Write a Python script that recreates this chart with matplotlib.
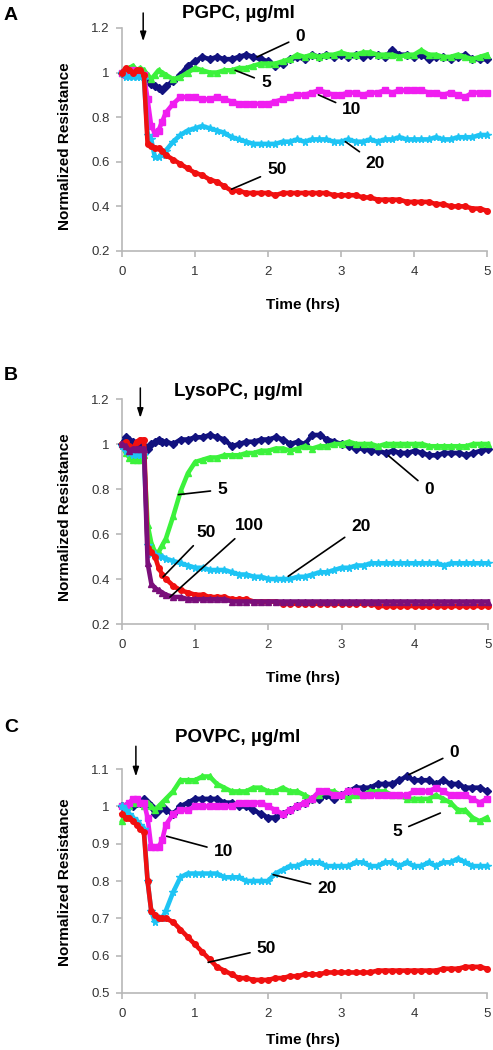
import matplotlib
matplotlib.use("Agg")
import matplotlib.pyplot as plt

plt.rcParams["font.family"] = ["Liberation Sans", "DejaVu Sans"]

# --- Zeitachse (h), gemeinsam für alle Panels ---
T = [0.0, 0.05, 0.1, 0.15, 0.2, 0.25, 0.3, 0.35, 0.4, 0.45, 0.5, 0.55, 0.6,
     0.7, 0.8, 0.9, 1.0,
     1.1, 1.2, 1.3, 1.4, 1.5, 1.6, 1.7, 1.8, 1.9, 2.0,
     2.1, 2.2, 2.3, 2.4, 2.5, 2.6, 2.7, 2.8, 2.9, 3.0,
     3.1, 3.2, 3.3, 3.4, 3.5, 3.6, 3.7, 3.8, 3.9, 4.0,
     4.1, 4.2, 4.3, 4.4, 4.5, 4.6, 4.7, 4.8, 4.9, 5.0]

# --- Panel A: PGPC ---
A_0 = [1.00, 1.01, 1.00, 1.01, 1.00, 1.00, 0.99, 0.97, 0.95, 0.94, 0.93, 0.92, 0.94,
       0.96, 0.99, 1.03, 1.05,
       1.07, 1.06, 1.07, 1.06, 1.06, 1.07, 1.08, 1.07, 1.06, 1.05,
       1.03, 1.04, 1.06, 1.07, 1.06, 1.08, 1.07, 1.08, 1.07, 1.08,
       1.07, 1.08, 1.07, 1.08, 1.08, 1.07, 1.10, 1.08, 1.08, 1.07,
       1.08, 1.06, 1.07, 1.07, 1.06, 1.07, 1.08, 1.06, 1.06, 1.06]
A_5 = [1.00, 1.01, 1.02, 1.03, 1.01, 1.02, 1.01, 0.99, 0.97, 0.99, 1.01, 1.00, 0.99,
       0.97, 0.98, 1.00, 1.02,
       1.01, 1.00, 1.00, 1.01, 1.01, 1.02, 1.02, 1.03, 1.04, 1.04,
       1.04, 1.05, 1.06, 1.08, 1.07, 1.08, 1.07, 1.08, 1.08, 1.09,
       1.08, 1.08, 1.09, 1.09, 1.08, 1.08, 1.08, 1.07, 1.08, 1.08,
       1.10, 1.08, 1.08, 1.07, 1.07, 1.08, 1.07, 1.06, 1.07, 1.08]
A_10 = [1.00, 0.99, 1.00, 1.01, 1.00, 1.00, 0.99, 0.88, 0.76, 0.73, 0.74, 0.78, 0.82,
        0.86, 0.89, 0.89, 0.89,
        0.88, 0.88, 0.89, 0.88, 0.87, 0.86, 0.86, 0.86, 0.86, 0.86,
        0.87, 0.88, 0.89, 0.90, 0.90, 0.91, 0.92, 0.91, 0.90, 0.90,
        0.91, 0.91, 0.90, 0.91, 0.91, 0.92, 0.91, 0.92, 0.92, 0.92,
        0.92, 0.91, 0.91, 0.90, 0.91, 0.90, 0.89, 0.91, 0.91, 0.91]
A_20 = [1.00, 0.98, 0.98, 0.98, 0.98, 0.98, 0.97, 0.72, 0.70, 0.62, 0.62, 0.63, 0.65,
        0.69, 0.72, 0.74, 0.75,
        0.76, 0.75, 0.74, 0.73, 0.71, 0.70, 0.69, 0.68, 0.68, 0.68,
        0.68, 0.69, 0.69, 0.70, 0.69, 0.70, 0.70, 0.70, 0.69, 0.69,
        0.70, 0.69, 0.69, 0.70, 0.69, 0.70, 0.70, 0.71, 0.70, 0.70,
        0.70, 0.70, 0.71, 0.70, 0.70, 0.71, 0.71, 0.71, 0.72, 0.72]
A_50 = [1.00, 1.02, 1.01, 1.00, 1.01, 1.01, 0.99, 0.68, 0.67, 0.66, 0.66, 0.65, 0.63,
        0.61, 0.59, 0.57, 0.55,
        0.54, 0.52, 0.51, 0.49, 0.47, 0.47, 0.46, 0.46, 0.46, 0.46,
        0.45, 0.46, 0.46, 0.46, 0.46, 0.46, 0.46, 0.46, 0.45, 0.45,
        0.45, 0.45, 0.44, 0.44, 0.43, 0.43, 0.43, 0.43, 0.42, 0.42,
        0.42, 0.42, 0.41, 0.41, 0.40, 0.40, 0.40, 0.39, 0.39, 0.38]

# --- Panel B: LysoPC ---
B_0 = [1.00, 1.03, 1.02, 1.01, 1.00, 1.00, 0.99, 0.98, 1.00, 1.01, 1.02, 1.01, 1.01,
       1.00, 1.02, 1.02, 1.03,
       1.03, 1.04, 1.03, 1.02, 0.99, 1.00, 1.01, 1.01, 1.02, 1.02,
       1.03, 1.02, 1.00, 1.01, 1.00, 1.04, 1.04, 1.02, 1.01, 1.00,
       0.99, 0.98, 0.98, 0.97, 0.97, 0.96, 0.97, 0.96, 0.96, 0.97,
       0.96, 0.95, 0.95, 0.96, 0.96, 0.96, 0.95, 0.96, 0.97, 0.98]
B_5 = [1.00, 0.96, 0.94, 0.93, 0.93, 0.93, 0.95, 0.64, 0.56, 0.52, 0.52, 0.55, 0.58,
       0.68, 0.79, 0.87, 0.92,
       0.93, 0.94, 0.94, 0.95, 0.95, 0.95, 0.96, 0.96, 0.97, 0.97,
       0.98, 0.98, 0.97, 0.98, 0.99, 0.98, 0.99, 0.99, 1.00, 1.00,
       1.01, 1.00, 1.00, 1.00, 0.99, 1.00, 1.00, 1.00, 1.00, 1.00,
       1.00, 0.99, 0.99, 0.99, 0.99, 0.99, 0.99, 1.00, 1.00, 1.00]
B_20 = [0.99, 0.97, 0.96, 0.95, 0.95, 0.95, 0.95, 0.55, 0.51, 0.51, 0.50, 0.50, 0.49,
        0.48, 0.47, 0.46, 0.45,
        0.45, 0.44, 0.44, 0.44, 0.43, 0.42, 0.42, 0.41, 0.41, 0.40,
        0.40, 0.40, 0.40, 0.41, 0.41, 0.42, 0.43, 0.43, 0.44, 0.45,
        0.45, 0.46, 0.46, 0.47, 0.47, 0.47, 0.47, 0.47, 0.47, 0.47,
        0.47, 0.47, 0.47, 0.46, 0.47, 0.47, 0.47, 0.47, 0.47, 0.47]
B_50 = [1.00, 1.01, 0.99, 0.98, 1.01, 1.02, 1.02, 0.54, 0.52, 0.50, 0.45, 0.42, 0.40,
        0.37, 0.35, 0.34, 0.33,
        0.33, 0.32, 0.32, 0.32, 0.31, 0.31, 0.31, 0.30, 0.30, 0.30,
        0.30, 0.29, 0.29, 0.29, 0.29, 0.29, 0.29, 0.29, 0.29, 0.29,
        0.29, 0.29, 0.29, 0.29, 0.28, 0.28, 0.28, 0.28, 0.28, 0.28,
        0.28, 0.28, 0.28, 0.28, 0.28, 0.28, 0.28, 0.28, 0.28, 0.28]
B_100 = [1.00, 0.99, 0.97, 0.98, 0.98, 0.98, 0.98, 0.47, 0.38, 0.36, 0.35, 0.34, 0.33,
         0.32, 0.32, 0.31, 0.31,
         0.31, 0.31, 0.31, 0.31, 0.30, 0.30, 0.30, 0.30, 0.30, 0.30,
         0.30, 0.30, 0.30, 0.30, 0.30, 0.30, 0.30, 0.30, 0.30, 0.30,
         0.30, 0.30, 0.30, 0.30, 0.30, 0.30, 0.30, 0.30, 0.30, 0.30,
         0.30, 0.30, 0.30, 0.30, 0.30, 0.30, 0.30, 0.30, 0.30, 0.30]

# --- Panel C: POVPC ---
C_0 = [1.00, 1.00, 1.00, 1.00, 1.01, 1.01, 1.02, 1.01, 1.00, 0.98, 0.99, 1.00, 0.99,
       0.98, 1.00, 1.01, 1.02,
       1.02, 1.02, 1.02, 1.01, 1.01, 1.00, 1.00, 0.99, 0.98, 0.97,
       0.97, 0.98, 0.99, 1.00, 1.01, 1.02, 1.02, 1.03, 1.02, 1.03,
       1.04, 1.05, 1.05, 1.05, 1.06, 1.06, 1.06, 1.07, 1.08, 1.07,
       1.07, 1.07, 1.06, 1.07, 1.06, 1.06, 1.05, 1.05, 1.05, 1.04]
C_5 = [0.96, 0.98, 1.00, 1.01, 1.01, 1.01, 1.00, 1.01, 1.00, 0.99, 1.00, 1.01, 1.02,
       1.04, 1.07, 1.07, 1.07,
       1.08, 1.08, 1.06, 1.05, 1.04, 1.04, 1.04, 1.05, 1.05, 1.04,
       1.04, 1.05, 1.04, 1.04, 1.03, 1.02, 1.03, 1.04, 1.04, 1.03,
       1.02, 1.03, 1.03, 1.04, 1.04, 1.04, 1.03, 1.03, 1.02, 1.02,
       1.02, 1.02, 1.03, 1.02, 1.01, 0.99, 0.99, 0.97, 0.96, 0.97]
C_10 = [1.00, 1.00, 1.01, 1.02, 1.02, 1.01, 1.01, 0.97, 0.89, 0.89, 0.89, 0.91, 0.95,
        0.98, 0.99, 0.99, 1.00,
        1.00, 1.00, 1.00, 1.00, 1.00, 1.01, 1.01, 1.01, 1.01, 1.00,
        0.99, 0.98, 0.99, 1.00, 1.01, 1.02, 1.04, 1.04, 1.03, 1.03,
        1.04, 1.04, 1.03, 1.03, 1.03, 1.03, 1.03, 1.03, 1.03, 1.04,
        1.04, 1.04, 1.05, 1.04, 1.03, 1.03, 1.03, 1.02, 1.01, 1.02]
C_20 = [1.00, 0.99, 0.98, 0.97, 0.96, 0.95, 0.94, 0.80, 0.72, 0.69, 0.70, 0.70, 0.72,
        0.77, 0.81, 0.82, 0.82,
        0.82, 0.82, 0.82, 0.81, 0.81, 0.81, 0.80, 0.80, 0.80, 0.80,
        0.82, 0.83, 0.84, 0.84, 0.85, 0.85, 0.85, 0.84, 0.84, 0.84,
        0.84, 0.85, 0.85, 0.84, 0.84, 0.85, 0.85, 0.84, 0.85, 0.84,
        0.84, 0.85, 0.84, 0.85, 0.85, 0.86, 0.85, 0.84, 0.84, 0.84]
C_50 = [0.98, 0.97, 0.97, 0.96, 0.95, 0.94, 0.93, 0.80, 0.72, 0.71, 0.70, 0.70, 0.70,
        0.69, 0.67, 0.65, 0.63,
        0.61, 0.59, 0.57, 0.56, 0.55, 0.54, 0.54, 0.535, 0.535, 0.535,
        0.54, 0.54, 0.545, 0.545, 0.55, 0.55, 0.55, 0.555, 0.555, 0.555,
        0.555, 0.555, 0.555, 0.555, 0.56, 0.56, 0.56, 0.56, 0.56, 0.56,
        0.56, 0.56, 0.56, 0.565, 0.565, 0.565, 0.57, 0.57, 0.57, 0.565]

# Farben / Marker je Konzentration
STIL = {
    "0":   ("#12127f", "D"),
    "5":   ("#3cf23c", "^"),
    "10":  ("#f01ef0", "s"),
    "20":  ("#1ec4f4", "*"),
    "50":  ("#f01010", "o"),
    "100": ("#7a0f7a", "^"),
}

# Beschriftungen: (Text, Textposition, Zielpunkt auf der Kurve)
LABELS_A = [("0", (2.44, 1.16), (1.85, 1.07)), ("5", (1.97, 0.956), (1.55, 1.01)),
            ("10", (3.15, 0.833), (2.69, 0.90)), ("20", (3.47, 0.594), (3.06, 0.69)),
            ("50", (2.12, 0.564), (1.50, 0.477))]
LABELS_B = [("0", (4.19, 0.797), (3.64, 0.948)), ("5", (1.37, 0.797), (0.77, 0.775)),
            ("50", (1.15, 0.607), (0.56, 0.409)), ("100", (1.74, 0.637), (0.655, 0.32)),
            ("20", (3.26, 0.634), (2.27, 0.412))]
LABELS_C = [("0", (4.55, 1.143), (3.93, 1.085)), ("5", (3.77, 0.933), (4.36, 0.982)),
            ("10", (1.39, 0.879), (0.61, 0.92)), ("20", (2.81, 0.781), (2.07, 0.817)),
            ("50", (1.98, 0.618), (1.18, 0.582))]

PANELS = [
    dict(buchst="A", titel="PGPC, µg/ml", serien=[("0", A_0), ("5", A_5), ("10", A_10),
                                                   ("20", A_20), ("50", A_50)],
         ylim=(0.2, 1.2), yticks=[0.2, 0.4, 0.6, 0.8, 1.0, 1.2],
         ylabs=["0.2", "0.4", "0.6", "0.8", "1", "1.2"], labels=LABELS_A,
         pfeil=(0.29, 1.267, 1.14), rect=[0.2475, 0.761, 0.7404, 0.2124],
         titel_y=0.9876, buchst_y=0.9857, xlab_y=1 - 305 / 1050, ylab_y=1 - 146 / 1050),
    dict(buchst="B", titel="LysoPC, µg/ml", serien=[("0", B_0), ("5", B_5), ("20", B_20),
                                                     ("50", B_50), ("100", B_100)],
         ylim=(0.2, 1.2), yticks=[0.2, 0.4, 0.6, 0.8, 1.0, 1.2],
         ylabs=["0.2", "0.4", "0.6", "0.8", "1", "1.2"], labels=LABELS_B,
         pfeil=(0.25, 1.249, 1.116), rect=[0.2475, 0.4057, 0.7424, 0.2143],
         titel_y=1 - 392 / 1050, buchst_y=1 - 375 / 1050, xlab_y=1 - 678 / 1050,
         ylab_y=1 - 517 / 1050),
    dict(buchst="C", titel="POVPC, µg/ml", serien=[("0", C_0), ("5", C_5), ("10", C_10),
                                                    ("20", C_20), ("50", C_50)],
         ylim=(0.5, 1.1), yticks=[0.5, 0.6, 0.7, 0.8, 0.9, 1.0, 1.1],
         ylabs=["0.5", "0.6", "0.7", "0.8", "0.9", "1", "1.1"], labels=LABELS_C,
         pfeil=(0.19, 1.161, 1.08), rect=[0.2475, 0.0543, 0.7404, 0.2133],
         titel_y=1 - 738 / 1050, buchst_y=1 - 728 / 1050, xlab_y=1 - 1040 / 1050,
         ylab_y=1 - 882 / 1050),
]

GRAU = "#b8b8b8"

fig = plt.figure(figsize=(4.93, 10.5), dpi=100)

for p in PANELS:
    ax = fig.add_axes(p["rect"])
    for name, werte in p["serien"]:
        farbe, marker = STIL[name]
        ms = 5.5 if marker == "*" else 4.0
        ax.plot(T, werte, color=farbe, lw=3.3, marker=marker, ms=ms,
                mec=farbe, mfc=farbe, clip_on=False, zorder=3)

    ax.set_xlim(0, 5)
    ax.set_ylim(*p["ylim"])
    ax.set_xticks([0, 1, 2, 3, 4, 5])
    ax.set_yticks(p["yticks"])
    ax.set_yticklabels(p["ylabs"])
    for s in ["top", "right"]:
        ax.spines[s].set_visible(False)
    for s in ["left", "bottom"]:
        ax.spines[s].set_color(GRAU)
        ax.spines[s].set_linewidth(1.2)
    ax.tick_params(axis="both", colors=GRAU, labelcolor="#333333", labelsize=9.5,
                   length=4, width=1.2)
    ax.tick_params(axis="y", pad=5)
    ax.tick_params(axis="x", pad=7)

    for txt, pos, ziel in p["labels"]:
        ax.annotate(txt, xy=ziel, xytext=pos, ha="center", va="center",
                    fontsize=12.5, fontweight="bold",
                    arrowprops=dict(arrowstyle="-", color="black", lw=1.2,
                                    shrinkA=3, shrinkB=0), zorder=5)

    px, y0, y1 = p["pfeil"]
    ax.annotate("", xy=(px, y1), xytext=(px, y0), annotation_clip=False,
                arrowprops=dict(arrowstyle="-|>,head_width=0.18,head_length=0.55",
                                color="black", lw=1.1, shrinkA=0, shrinkB=0))

    fig.text(0.483, p["titel_y"], p["titel"], ha="center", va="center",
             fontsize=13.5, fontweight="bold")
    fig.text(0.022, p["buchst_y"], p["buchst"], ha="center", va="center",
             fontsize=14, fontweight="bold")
    fig.text(0.615, p["xlab_y"], "Time (hrs)", ha="center", va="center",
             fontsize=11, fontweight="bold")
    fig.text(0.132, p["ylab_y"], "Normalized Resistance", ha="center", va="center",
             rotation=90, fontsize=11, fontweight="bold")

fig.savefig("out.png", dpi=100)
